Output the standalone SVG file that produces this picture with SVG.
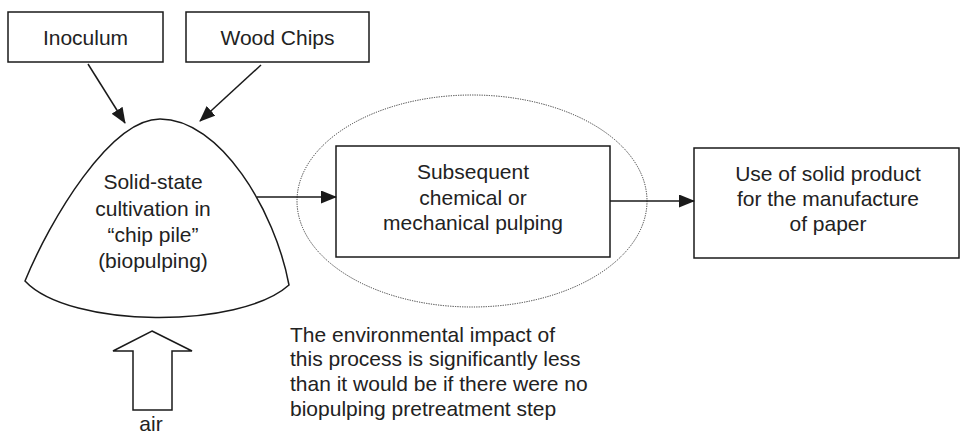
<svg xmlns="http://www.w3.org/2000/svg" width="961" height="437" viewBox="0 0 961 437">
  <defs>
    <marker id="arrowhead" viewBox="0 0 16 13" refX="15" refY="6.5" markerWidth="16" markerHeight="13" markerUnits="userSpaceOnUse" orient="auto">
      <path d="M0,0 L16,6.5 L0,13 Z" fill="#1a1a1a"/>
    </marker>
  </defs>
  <style>
    .box { fill: #ffffff; stroke: #1a1a1a; stroke-width: 1.5; }
    .label { font-family: "Liberation Sans", Arial, sans-serif; font-size: 21px; fill: #222222; text-anchor: middle; }
    .note { font-family: "Liberation Sans", Arial, sans-serif; font-size: 21px; fill: #222222; }
    .edge { fill: none; stroke: #1a1a1a; stroke-width: 1.5; marker-end: url(#arrowhead); }
  </style>
  <rect width="961" height="437" fill="#ffffff"/>

  <!-- dotted enclosure around the pulping step -->
  <g id="scope">
    <ellipse cx="472" cy="201" rx="175" ry="106" fill="none" stroke="#333333" stroke-width="1" stroke-dasharray="1.2,1.2"/>
  </g>

  <g id="inoculum">
    <rect class="box" x="8" y="12" width="155" height="50"/>
    <text class="label" x="85.5" y="45">Inoculum</text>
  </g>

  <g id="wood-chips">
    <rect class="box" x="186" y="12" width="183" height="50"/>
    <text class="label" x="277.5" y="45">Wood Chips</text>
  </g>

  <g id="chip-pile">
    <path class="box" d="M160,119 C220,119 275,210 289,285 C240,329 70,329 25,281 C50,220 110,119 160,119 Z"/>
    <text class="label" x="153" y="189">Solid-state</text>
    <text class="label" x="153" y="216">cultivation in</text>
    <text class="label" x="153" y="242">“chip pile”</text>
    <text class="label" x="153" y="268">(biopulping)</text>
  </g>

  <g id="pulping">
    <rect class="box" x="336" y="146" width="274" height="111"/>
    <text class="label" x="473" y="179">Subsequent</text>
    <text class="label" x="473" y="205">chemical or</text>
    <text class="label" x="473" y="230">mechanical pulping</text>
  </g>

  <g id="paper">
    <rect class="box" x="694" y="148" width="265" height="110"/>
    <text class="label" x="828" y="181">Use of solid product</text>
    <text class="label" x="828" y="206">for the manufacture</text>
    <text class="label" x="828" y="231">of paper</text>
  </g>

  <g id="air">
    <path class="box" d="M152,331 L192,351 L172,351 L172,410 L133,410 L133,351 L113,351 Z"/>
    <text class="label" x="151" y="431">air</text>
  </g>

  <g id="note">
    <text class="note" x="290" y="342">The environmental impact of</text>
    <text class="note" x="290" y="366">this process is significantly less</text>
    <text class="note" x="290" y="391">than it would be if there were no</text>
    <text class="note" x="290" y="416">biopulping pretreatment step</text>
  </g>

  <g id="connectors">
    <line class="edge" x1="88" y1="64" x2="125" y2="123"/>
    <line class="edge" x1="261" y1="65" x2="200" y2="121"/>
    <line class="edge" x1="257" y1="197" x2="336" y2="197"/>
    <line class="edge" x1="610" y1="201" x2="694" y2="201"/>
  </g>
</svg>
